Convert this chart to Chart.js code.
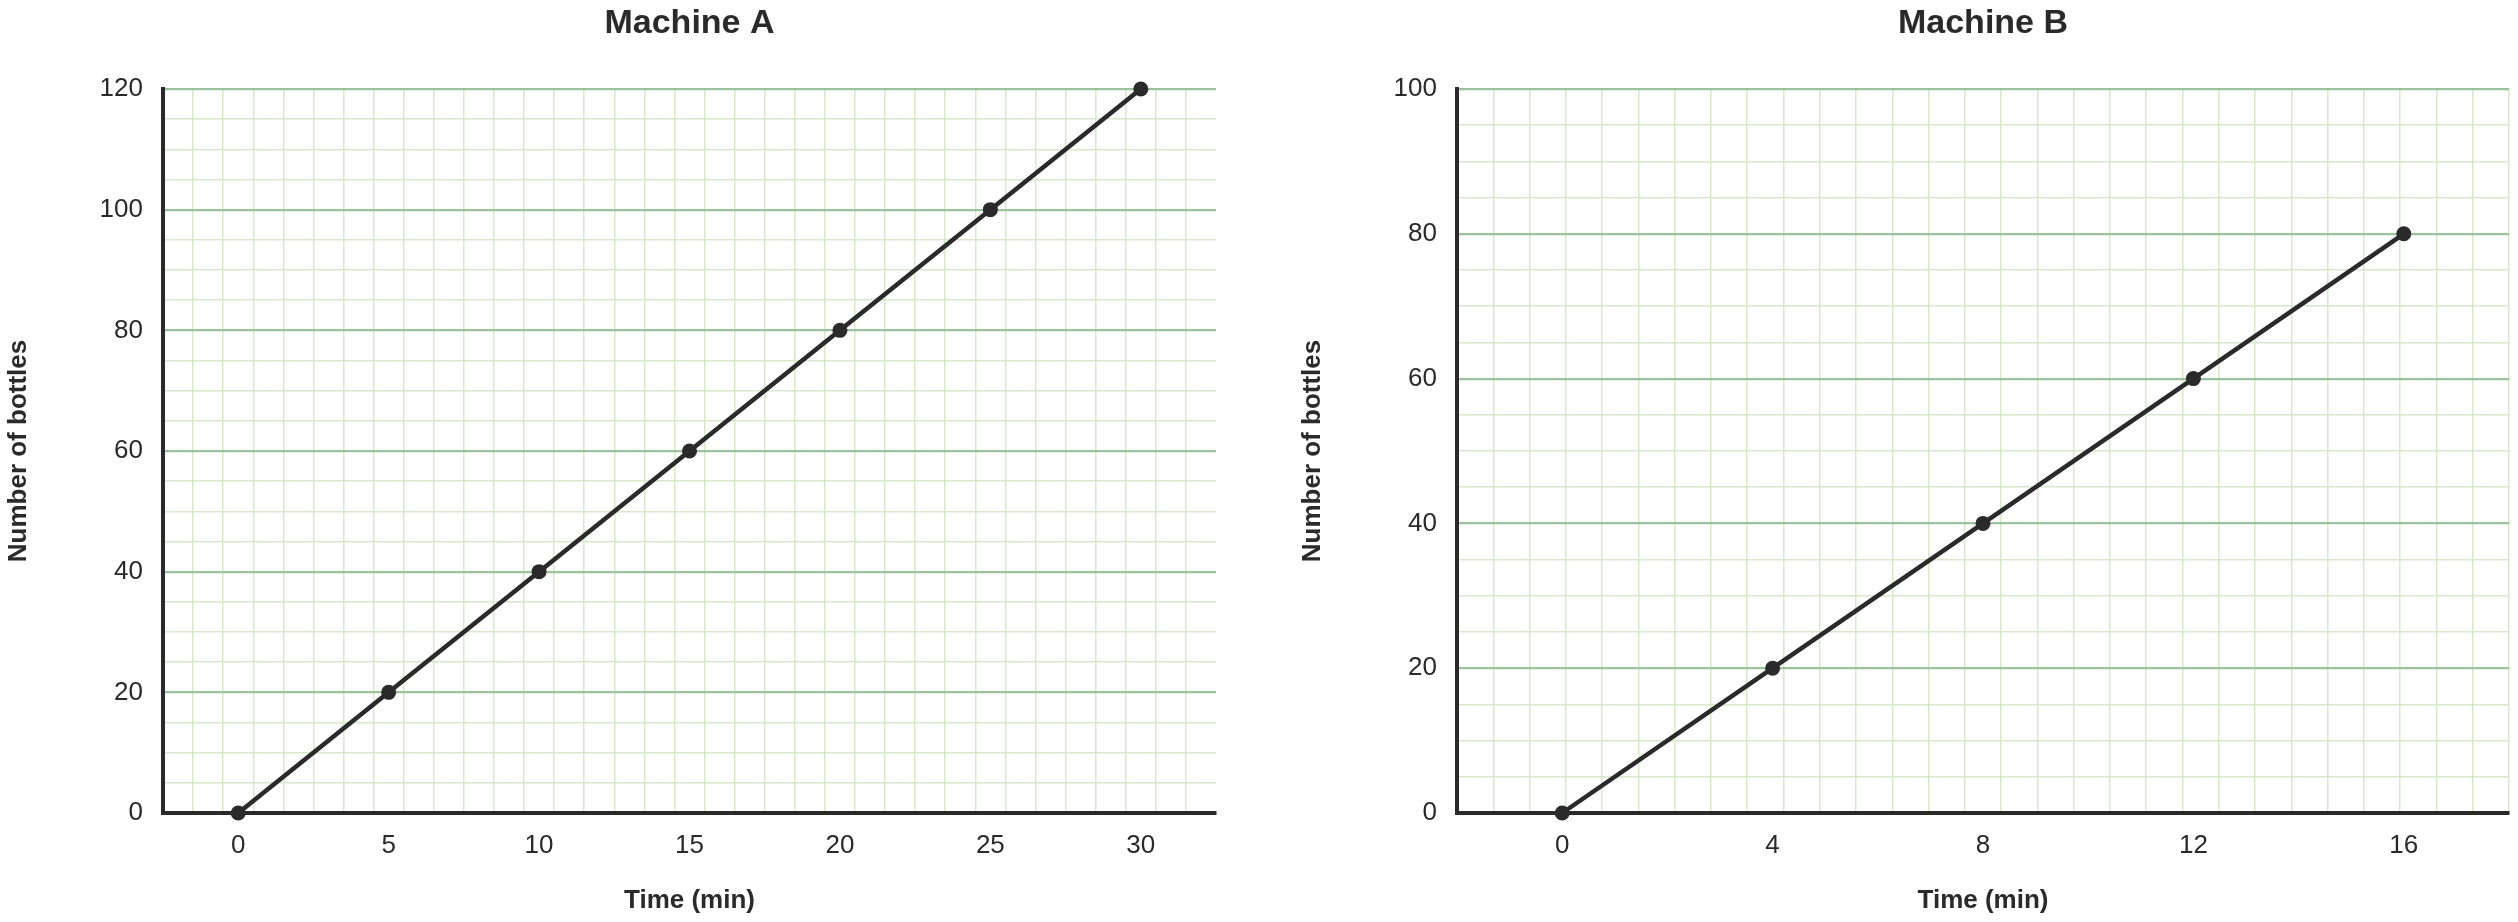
<!DOCTYPE html>
<html>
<head>
<meta charset="utf-8">
<script src="https://cdn.jsdelivr.net/npm/chart.js@4/dist/chart.umd.min.js"></script>
<style>
  html, body { margin: 0; padding: 0; background: #fff; overflow: hidden; }
  #wrap { position: relative; width: 2518px; height: 922px; }
  .box { position: absolute; top: 0; height: 922px; width: 1259px; }
  #boxA { left: 0; }
  #boxB { left: 1259px; }
</style>
</head>
<body>
<div id="wrap">
  <div class="box" id="boxA"><canvas id="graficoA"></canvas></div>
  <div class="box" id="boxB"><canvas id="graficoB"></canvas></div>
</div>
<script>
// Machine A
const timeA = [0, 5, 10, 15, 20, 25, 30];
const bottlesA = [0, 20, 40, 60, 80, 100, 120];
const xTicksA = [0, 5, 10, 15, 20, 25, 30];
const yTicksA = [0, 20, 40, 60, 80, 100, 120];

// Machine B
const timeB = [0, 4, 8, 12, 16];
const bottlesB = [0, 20, 40, 60, 80];
const xTicksB = [0, 4, 8, 12, 16];
const yTicksB = [0, 20, 40, 60, 80, 100];

const corTexto = "#2a2a2a";
const corLinha = "#2a2a2a";
const gradeFraca = "#d6e9c9";
const gradeForte = "#9cc29b";
const fonte = "'Liberation Sans', Arial, sans-serif";

// titulo centrado sobre a area do grafico
const tituloPlugin = {
  id: "tituloPlugin",
  afterDraw(chart, args, opts) {
    const ctx = chart.ctx;
    const area = chart.chartArea;
    ctx.save();
    ctx.font = "bold 34px " + fonte;
    ctx.fillStyle = corTexto;
    ctx.textAlign = "center";
    ctx.textBaseline = "middle";
    ctx.fillText(opts.text, (area.left + area.right) / 2, 24);
    ctx.restore();
  }
};

function montaGrafico(id, cfg) {
  const pontos = cfg.x.map((v, i) => ({ x: v, y: cfg.y[i] }));

  return new Chart(document.getElementById(id), {
    type: "scatter",
    data: {
      datasets: [{
        data: pontos,
        showLine: true,
        borderColor: corLinha,
        borderWidth: 4.5,
        backgroundColor: corLinha,
        pointRadius: 7.5,
        pointBorderWidth: 0,
        pointHoverRadius: 7.5,
        clip: false
      }]
    },
    plugins: [tituloPlugin],
    options: {
      responsive: true,
      maintainAspectRatio: false,
      animation: false,
      events: [],
      layout: { padding: { top: 89, right: cfg.padDireita, left: 0, bottom: 0 } },
      plugins: {
        legend: { display: false },
        tooltip: { enabled: false },
        tituloPlugin: { text: cfg.titulo }
      },
      scales: {
        x: {
          type: "linear",
          min: cfg.xMin,
          max: cfg.xMax,
          afterBuildTicks: function (axis) {
            const lista = [];
            for (let k = 0; k <= cfg.celulas; k++) {
              lista.push({ value: cfg.xMin + k * (cfg.xMax - cfg.xMin) / cfg.celulas, grade: true, idx: k });
            }
            cfg.xTicks.forEach(v => lista.push({ value: v, grade: false }));
            axis.ticks = lista;
          },
          afterFit: function (scale) { scale.height = 109; },
          grid: {
            drawTicks: false,
            color: (c) => {
              if (!c.tick || !c.tick.grade || c.tick.idx === 0) return "transparent";
              if (c.tick.idx === cfg.celulas && !cfg.linhaFinal) return "transparent";
              return gradeFraca;
            },
            lineWidth: 1.5
          },
          border: { display: true, color: corLinha, width: 4 },
          ticks: {
            autoSkip: false,
            maxRotation: 0,
            padding: 17,
            color: corTexto,
            font: { family: fonte, size: 26 },
            callback: function (valor, i, ticks) {
              return ticks[i].grade ? "" : String(valor);
            }
          },
          title: {
            display: true,
            text: "Time (min)",
            color: corTexto,
            font: { family: fonte, size: 26, weight: "bold" },
            padding: { top: 0, bottom: 6 }
          }
        },
        y: {
          type: "linear",
          min: 0,
          max: cfg.yMax,
          afterFit: function (scale) { scale.width = cfg.larguraY; },
          grid: {
            drawTicks: false,
            color: (c) => {
              if (!c.tick || c.tick.value === 0) return "transparent";
              return cfg.yTicks.includes(c.tick.value) ? gradeForte : gradeFraca;
            },
            lineWidth: (c) => (c.tick && cfg.yTicks.includes(c.tick.value)) ? 2.2 : 1.5
          },
          border: { display: true, color: corLinha, width: 4 },
          ticks: {
            stepSize: 5,
            autoSkip: false,
            padding: 20,
            color: corTexto,
            font: { family: fonte, size: 26 },
            callback: function (valor) {
              return cfg.yTicks.includes(valor) ? String(valor) : "";
            }
          },
          title: {
            display: true,
            text: "Number of bottles",
            color: corTexto,
            font: { family: fonte, size: 26, weight: "bold" },
            padding: { top: cfg.padTituloY, bottom: 0 }
          }
        }
      }
    }
  });
}

montaGrafico("graficoA", {
  titulo: "Machine A",
  x: timeA, y: bottlesA,
  xTicks: xTicksA, yTicks: yTicksA,
  xMin: -2.5, xMax: 32.5, celulas: 35, linhaFinal: false,
  yMax: 120,
  larguraY: 163, padDireita: 43, padTituloY: 3
});

montaGrafico("graficoB", {
  titulo: "Machine B",
  x: timeB, y: bottlesB,
  xTicks: xTicksB, yTicks: yTicksB,
  xMin: -2, xMax: 18, celulas: 29, linhaFinal: true,
  yMax: 100,
  larguraY: 198, padDireita: 9, padTituloY: 38
});
</script>
</body>
</html>
